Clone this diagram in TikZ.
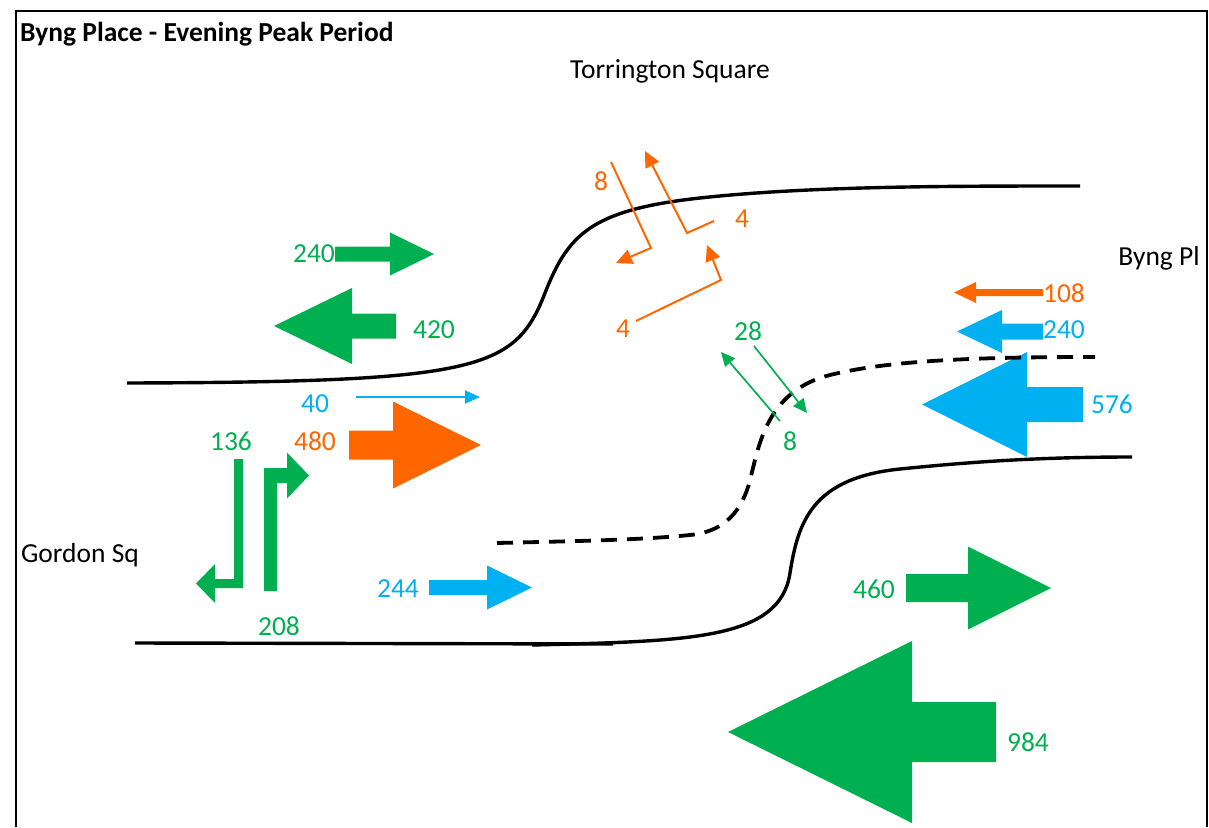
\documentclass[tikz,border=0pt]{standalone}
\usepackage{fontspec}
\setmainfont{Carlito}
\usetikzlibrary{arrows.meta}
\definecolor{flowgreen}{HTML}{00B050}
\definecolor{flowblue}{HTML}{00B0F0}
\definecolor{floworange}{HTML}{FF6600}
% block arrow: colour, tail x, head base x, tip x, y, shaft half width, head half width
\newcommand{\flowarrow}[7]{%
  \fill[#1] (#2,#5-#6) -- (#3,#5-#6) -- (#3,#5-#7) -- (#4,#5) -- (#3,#5+#7) -- (#3,#5+#6) -- (#2,#5+#6) -- cycle;}

\begin{document}
\begin{tikzpicture}[x=1pt, y=-1pt,
    every node/.style={font=\fontsize{27.5}{33}\selectfont, inner sep=0pt},
    road/.style={line width=3.4pt},
    othin/.style={floworange, line width=2pt, -{Triangle[length=16pt,width=15pt]}},
    gthin/.style={flowgreen, line width=1.7pt, -{Triangle[length=14pt,width=13pt]}},
    bthin/.style={flowblue, line width=1.7pt, -{Triangle[length=15pt,width=13pt]}}]
  \useasboundingbox (0,0) rectangle (1209,827);
  \draw[line width=2.2pt] (16,827) |- (1207,11) -- (1207,827);

  % flows
  \flowarrow{flowgreen}{335}{390}{434}{254}{7.5}{21.5}
  \flowarrow{flowgreen}{396}{352}{274}{326}{12.5}{38}
  \flowarrow{floworange}{349}{393}{481}{445}{14.5}{43.5}
  \flowarrow{flowblue}{429}{487}{532}{587.5}{7.5}{22}
  \flowarrow{flowgreen}{906}{968}{1051}{588}{14}{41.5}
  \flowarrow{flowgreen}{996}{912}{728}{732}{30}{91}
  \flowarrow{floworange}{1043}{976}{954}{292.5}{3.5}{10.5}
  \flowarrow{flowblue}{1043}{1002}{957}{331.5}{8}{21.5}
  \flowarrow{flowblue}{1083}{1027}{922}{404.5}{17.5}{52.5}
  \fill[flowgreen] (234,459) -- (243,459) -- (243,588) -- (215,588) -- (215,603) -- (196,583.5)
    -- (215,564) -- (215,579) -- (234,579) -- cycle;
  \fill[flowgreen] (264,591) -- (264,468) -- (287,468) -- (287,452.5) -- (309,475.5)
    -- (287,498.5) -- (287,483) -- (277,483) -- (277,591) -- cycle;

  % roads
  \draw[road] (127,383) .. controls (480,382) and (515,370) .. (545,293)
    .. controls (568,235) and (590,210) .. (700,198)
    .. controls (810,186) and (950,186) .. (1080,186);
  \draw[road] (135,643) -- (613,644);
  \draw[road] (532,645) .. controls (690,641) and (780,640) .. (790,573)
    .. controls (798,522) and (812,478) .. (900,469)
    .. controls (960,463) and (1030,457) .. (1132,457);
  \draw[road, line width=3.8pt, dash pattern=on 16pt off 10pt] (497,543) .. controls (580,541) and (640,540) .. (690,535)
    .. controls (730,531) and (745,505) .. (752,472)
    .. controls (760,440) and (770,390) .. (830,375)
    .. controls (890,360) and (980,357) .. (1095,357);

  % turning movements
  \coordinate (b40s) at (356,397);
  \coordinate (b40e) at (480,397);
  \draw[bthin] (b40s) -- (b40e);
  \coordinate (o8s) at (611,162);
  \coordinate (o8b) at (651,248);
  \coordinate (o8e) at (616,263);
  \draw[othin] (o8s) -- (o8b) -- (o8e);
  \coordinate (o4as) at (714,221);
  \coordinate (o4ab) at (687,233);
  \coordinate (o4ae) at (645,151);
  \draw[othin] (o4as) -- (o4ab) -- (o4ae);
  \coordinate (o4bs) at (636,321);
  \coordinate (o4bb) at (721,280);
  \coordinate (o4be) at (707,245);
  \draw[othin] (o4bs) -- (o4bb) -- (o4be);
  \coordinate (g8s) at (780,421);
  \coordinate (g8e) at (721,352);
  \draw[gthin] (g8s) -- (g8e);
  \coordinate (g28s) at (754,346);
  \coordinate (g28e) at (807,413);
  \draw[gthin] (g28s) -- (g28e);

  % labels
  \node[anchor=base west, font=\fontsize{27.5}{33}\selectfont\bfseries] (title) at (20,41) {Byng Place - Evening Peak Period};
  \node[anchor=base] (torr) at (670,78) {Torrington Square};
  \node[anchor=base] (byng) at (1159,265) {Byng Pl};
  \node[anchor=base] (gordon) at (80,562) {Gordon Sq};
  \node[text=flowgreen] (n240e) at (314,254) {240};
  \node[text=flowgreen] (n420w) at (434,330) {420};
  \node[text=flowblue] (n40e) at (315,404) {40};
  \node[text=floworange] (n480e) at (315,441) {480};
  \node[text=flowgreen] (n136) at (231,441) {136};
  \node[text=flowgreen] (n208) at (279,626) {208};
  \node[text=flowblue] (n244e) at (398,589) {244};
  \node[text=flowgreen] (n460e) at (874,589) {460};
  \node[text=flowgreen] (n984w) at (1028,742) {984};
  \node[text=floworange] (n108w) at (1064,293) {108};
  \node[text=flowblue] (n240w) at (1064,330) {240};
  \node[text=flowblue] (n576w) at (1112,404) {576};
  \node[text=floworange] (n8o) at (601,181) {8};
  \node[text=floworange] (n4a) at (742,219) {4};
  \node[text=floworange] (n4b) at (623,329) {4};
  \node[text=flowgreen] (n28) at (748,331) {28};
  \node[text=flowgreen] (n8g) at (790,441) {8};
\end{tikzpicture}
\end{document}
